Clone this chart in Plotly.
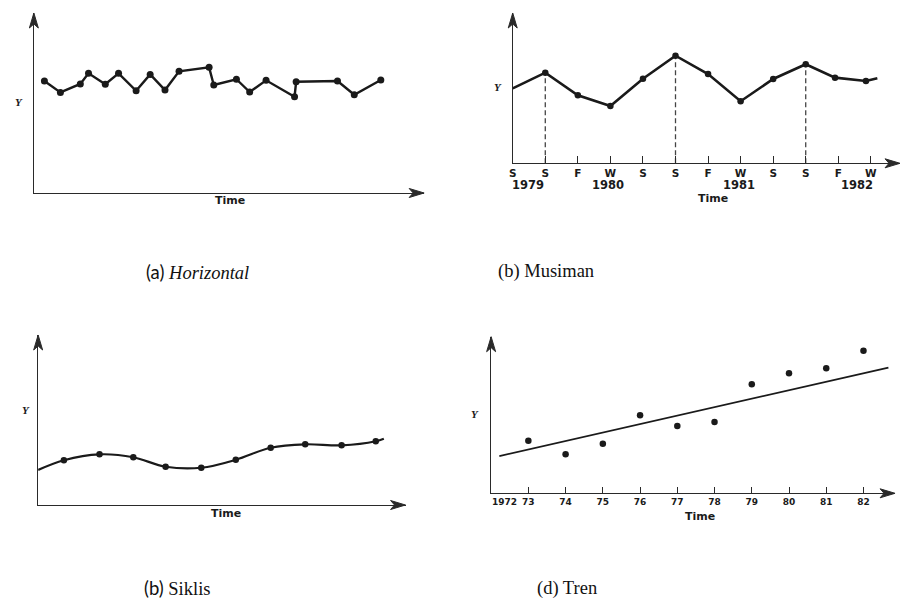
import plotly.graph_objects as go

W, H = 902, 601

# ---------------- data ----------------
# (a) Horizontal
a_time = [2.7, 6.8, 11.9, 14.0, 18.3, 21.7, 26.2, 29.8, 33.6, 37.2, 44.9, 46.1,
          51.9, 55.3, 59.5, 66.8, 67.2, 77.8, 82.1, 88.9]
a_y = [62.2, 55.9, 60.6, 66.5, 60.4, 66.5, 56.8, 65.9, 57.2, 67.6, 69.8, 60.0,
       63.2, 56.1, 62.6, 53.5, 61.8, 62.2, 54.6, 62.8]

# (b) Musiman
b_season_labels = ["S", "S", "F", "W", "S", "S", "F", "W", "S", "S", "F", "W"]
b_years = ["1979", "1980", "1981", "1982"]
b_year_pos = [0.48, 2.93, 6.95, 10.57]
b_t = [0, 1, 2, 3, 4, 5, 6, 7, 8, 9, 9.9, 10.85, 11.2]
b_y = [49.9, 60.3, 45.2, 38.1, 56.3, 71.6, 59.4, 41.3, 56.1, 65.9, 57.0, 54.8, 56.6]
b_peak_idx = [1, 5, 9]

# (c) Siklis
c_t = [0, 7.0, 16.7, 25.9, 34.7, 44.4, 53.8, 63.3, 72.7, 82.6, 91.9, 94.1]
c_y = [20.6, 26.3, 29.8, 28.1, 22.5, 21.9, 26.6, 33.7, 35.7, 35.1, 37.5, 39.0]

# (d) Tren
d_years = [1973, 1974, 1975, 1976, 1977, 1978, 1979, 1980, 1981, 1982]
d_tick_labels = ["73", "74", "75", "76", "77", "78", "79", "80", "81", "82"]
d_y = [33.6, 24.9, 31.7, 49.8, 43.0, 45.5, 69.6, 76.6, 79.8, 91.1]
d_trend_x = [1972.22, 1982.67]
d_trend_y = [23.8, 80.2]

captions = ["<span style='font-family:Lato'>(a)</span> <i>Horizontal</i>",
            "(b) Musiman",
            "<span style='font-family:Lato'>(b)</span> Siklis",
            "(d) Tren"]

# ---------------- layout geometry (pixels) ----------------
INK = "#1a1a1a"
AX = "#2a2a2a"
# panel: (x_origin, x_tip, y_origin, y_tip)
geo = {
    1: (30, 422, 193, 13),
    2: (511, 900, 163.3, 13),
    3: (34.3, 403.3, 505, 335),
    4: (489.3, 895, 493.3, 336.7),
}
ranges = {
    1: ([0, 100], [0, 100]),
    2: ([0, (900 - 511) / 32.7], [0, 100]),
    3: ([0, 100], [0, 100]),
    4: ([1972, 1972 + (895 - 489.3) / 37.4], [0, 100]),
}

fig = go.Figure()

# (a)
fig.add_trace(go.Scatter(x=a_time, y=a_y, mode="lines+markers", xaxis="x", yaxis="y",
                         line=dict(color=INK, width=2.4), marker=dict(size=7, color=INK),
                         cliponaxis=False, showlegend=False))
# (b) dashed lines from peaks
for i in b_peak_idx:
    fig.add_trace(go.Scatter(x=[b_t[i], b_t[i]], y=[0, b_y[i]], mode="lines", xaxis="x2", yaxis="y2",
                             line=dict(color="#444", width=1.3, dash="5px,3px"), showlegend=False))
fig.add_trace(go.Scatter(x=b_t, y=b_y, mode="lines", xaxis="x2", yaxis="y2",
                         line=dict(color=INK, width=2.6), cliponaxis=False, showlegend=False))
fig.add_trace(go.Scatter(x=b_t[1:-1], y=b_y[1:-1], mode="markers", xaxis="x2", yaxis="y2",
                         marker=dict(size=6.5, color=INK), cliponaxis=False, showlegend=False))
# (c)
fig.add_trace(go.Scatter(x=c_t, y=c_y, mode="lines", xaxis="x3", yaxis="y3",
                         line=dict(color=INK, width=2.2, shape="spline", smoothing=1.0),
                         cliponaxis=False, showlegend=False))
fig.add_trace(go.Scatter(x=c_t[1:-1], y=c_y[1:-1], mode="markers", xaxis="x3", yaxis="y3",
                         marker=dict(size=6.5, color=INK), cliponaxis=False, showlegend=False))
# (d)
fig.add_trace(go.Scatter(x=d_trend_x, y=d_trend_y, mode="lines", xaxis="x4", yaxis="y4",
                         line=dict(color=INK, width=1.8), showlegend=False))
fig.add_trace(go.Scatter(x=d_years, y=d_y, mode="markers", xaxis="x4", yaxis="y4",
                         marker=dict(size=6.5, color=INK), cliponaxis=False, showlegend=False))

base_axis = dict(showgrid=False, zeroline=False, showline=True, linecolor=AX, linewidth=1.3,
                 ticks="", showticklabels=False, fixedrange=True)
tickfont = dict(family="DejaVu Sans", size=10, color=INK, weight="bold")

layout_axes = {}
for k, (x0, x1, y0, y1) in geo.items():
    xs = "" if k == 1 else str(k)
    xa = dict(base_axis, domain=[x0 / W, x1 / W], range=ranges[k][0], anchor="y" + xs)
    ya = dict(base_axis, domain=[1 - y0 / H, 1 - y1 / H], range=ranges[k][1], anchor="x" + xs)
    layout_axes["xaxis" + xs] = xa
    layout_axes["yaxis" + xs] = ya

layout_axes["xaxis2"].update(tickmode="array", tickvals=list(range(len(b_season_labels))),
                             ticktext=b_season_labels, ticks="inside", ticklen=7, tickwidth=1.3,
                             tickcolor=AX, showticklabels=True, tickfont=dict(tickfont, size=10.5))
layout_axes["xaxis4"].update(tickmode="array", tickvals=d_years, ticktext=d_tick_labels,
                             ticks="inside", ticklen=6, tickwidth=1.3, tickcolor=AX,
                             showticklabels=True, tickfont=dict(tickfont, size=9))


def px(x, y):
    return x / W, 1 - y / H


shapes = []
for k, (x0, x1, y0, y1) in geo.items():
    # arrowhead on time axis (pointing right)
    p = [px(x1, y0), px(x1 - 15, y0 - 4.5), px(x1 - 11, y0), px(x1 - 15, y0 + 4.5)]
    path = "M{:.5f},{:.5f} L{:.5f},{:.5f} L{:.5f},{:.5f} L{:.5f},{:.5f} Z".format(*[c for pt in p for c in pt])
    shapes.append(dict(type="path", xref="paper", yref="paper", path=path,
                       fillcolor=AX, line=dict(color=AX, width=1)))
    # arrowhead on Y axis (pointing up)
    p = [px(x0, y1), px(x0 - 4.5, y1 + 15), px(x0, y1 + 11), px(x0 + 4.5, y1 + 15)]
    path = "M{:.5f},{:.5f} L{:.5f},{:.5f} L{:.5f},{:.5f} L{:.5f},{:.5f} Z".format(*[c for pt in p for c in pt])
    shapes.append(dict(type="path", xref="paper", yref="paper", path=path,
                       fillcolor=AX, line=dict(color=AX, width=1)))

ann = []
lab_font = dict(family="DejaVu Sans", size=11, color=INK, weight="bold")
y_font = dict(family="Liberation Serif", size=11, color=INK, weight="bold", style="italic")
time_pos = [(227, 201), (711.7, 199), (223, 513.3), (699.3, 516)]
y_pos = [(15, 102), (496.7, 86.7), (21.7, 410), (473.3, 414.3)]
for (tx, ty) in time_pos:
    ann.append(dict(text="Time", x=tx / W, y=1 - ty / H, xref="paper", yref="paper",
                    showarrow=False, font=lab_font, xanchor="center", yanchor="middle"))
for (tx, ty) in y_pos:
    ann.append(dict(text="Y", x=tx / W, y=1 - ty / H, xref="paper", yref="paper",
                    showarrow=False, font=y_font, xanchor="center", yanchor="middle"))
for yr, xp in zip(b_years, b_year_pos):
    ann.append(dict(text=yr, x=xp, y=1 - 185.5 / H, xref="x2", yref="paper", showarrow=False,
                    font=dict(tickfont, size=11.5), xanchor="center", yanchor="middle"))
ann.append(dict(text="1972", x=1972, y=1 - 501.7 / H, xref="x4", yref="paper", showarrow=False,
                font=dict(tickfont, size=9), xanchor="left", yanchor="middle", xshift=-1))

cap_pos = [(141, 271.7), (494, 271.7), (139, 588.3), (533, 588.3)]
for txt, (cx, cy) in zip(captions, cap_pos):
    ann.append(dict(text=txt, x=cx / W, y=1 - cy / H, xref="paper", yref="paper", showarrow=False,
                    font=dict(family="Liberation Serif", size=18.5, color="#111"),
                    xanchor="left", yanchor="middle"))

fig.update_layout(width=W, height=H, margin=dict(l=0, r=0, t=0, b=0),
                  paper_bgcolor="white", plot_bgcolor="white",
                  shapes=shapes, annotations=ann, **layout_axes)

fig.write_html("out.html", config={"displayModeBar": False},
               post_script="document.body.style.margin='0';")
